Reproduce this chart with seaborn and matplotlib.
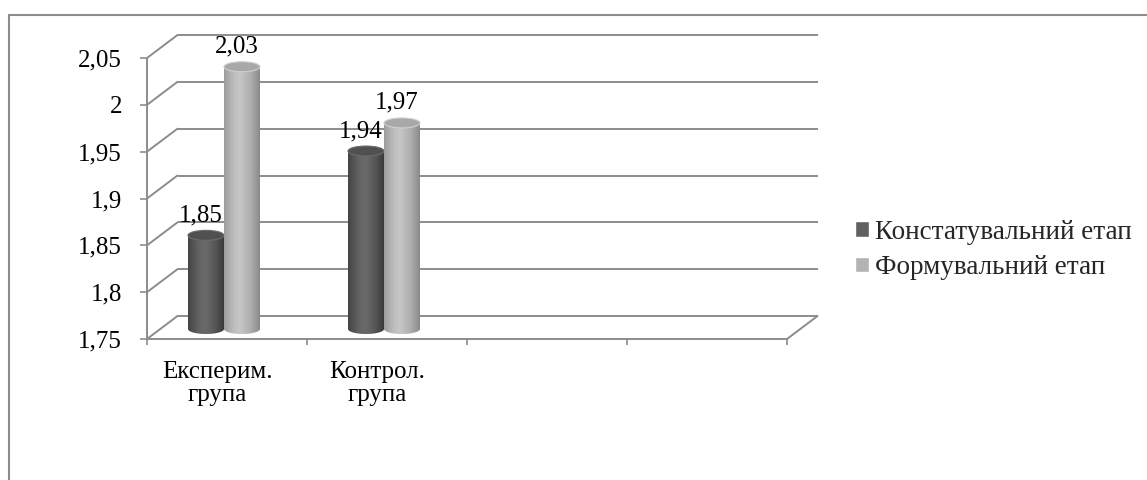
import numpy as np
import pandas as pd
import matplotlib
matplotlib.use('Agg')
import matplotlib.pyplot as plt
from matplotlib.colors import LinearSegmentedColormap
from matplotlib.patches import Ellipse, PathPatch, Patch
from matplotlib.path import Path
from matplotlib.lines import Line2D
from matplotlib.transforms import offset_copy
import seaborn as sns

# data
groups = ['Експерим.\nгрупа', 'Контрол.\nгрупа']
stages = ['Констатувальний етап', 'Формувальний етап']
stage1 = [1.85, 1.94]
stage2 = [2.03, 1.97]
value_labels1 = ['1,85', '1,94']
value_labels2 = ['2,03', '1,97']
yticks = [1.75, 1.80, 1.85, 1.90, 1.95, 2.00, 2.05]
ytick_labels = ['1,75', '1,8', '1,85', '1,9', '1,95', '2', '2,05']
n_slots = 4

df = pd.DataFrame({
    'group': groups * 2,
    'stage': [stages[0]] * 2 + [stages[1]] * 2,
    'value': stage1 + stage2,
})

sns.set_theme(style='white')
plt.rcParams['font.family'] = ['Liberation Serif', 'DejaVu Serif']
FS = 18
LFS = 19.5
gc = '#8c8c8c'
glw = 1.4

fig = plt.figure(figsize=(11.47, 4.8), dpi=100)
ax = fig.add_axes([147 / 1147, (480 - 339) / 480, 640 / 1147, 281 / 480])

sns.barplot(data=df, x='group', y='value', hue='stage', order=groups,
            hue_order=stages, palette=['#5e5e5e', '#b4b4b4'],
            width=0.45, errorbar=None, ax=ax)

ymin, ymax = yticks[0], yticks[-1]
ax.set_xlim(-0.5, n_slots - 0.5)
ax.set_ylim(ymin, ymax)

# px -> data units
ppx = 640 / n_slots
ppy = 281 / (ymax - ymin)
bdx, bdy = 30.5 / ppx, 23 / ppy      # back wall depth
sdx, sdy = -3 / ppx, 10 / ppy        # bars sit mid depth
eh = 10 / ppy                        # ellipse height

# back wall + left wall
ax.hlines([y + bdy for y in yticks], -0.5 + bdx, n_slots - 0.5 + bdx,
          color=gc, lw=glw, clip_on=False, zorder=1)
for y in yticks:
    ax.plot([-0.5, -0.5 + bdx], [y, y + bdy], color=gc, lw=glw,
            clip_on=False, zorder=1)
ax.plot([n_slots - 0.5, n_slots - 0.5 + bdx], [ymin, ymin + bdy],
        color=gc, lw=glw, clip_on=False, zorder=1)

cmaps = [
    LinearSegmentedColormap.from_list('d', [(0, '#444444'), (0.3, '#636363'),
                                            (0.5, '#6a6a6a'), (0.75, '#575757'),
                                            (1, '#3a3a3a')]),
    LinearSegmentedColormap.from_list('l', [(0, '#9c9c9c'), (0.3, '#c0c0c0'),
                                            (0.45, '#c6c6c6'), (0.75, '#adadad'),
                                            (1, '#8a8a8a')]),
]
tops = [('#505050', '#6c6c6c'), ('#a8a8a8', '#d0d0d0')]
grad = np.linspace(0, 1, 256)[None, :]
texts = [value_labels1, value_labels2]

for k, cont in enumerate(ax.containers):
    for j, p in enumerate(cont):
        p.set_visible(False)
        x0 = p.get_x() + sdx
        w = p.get_width()
        val = p.get_height()
        yb = ymin + sdy
        yt = val + sdy
        cx = x0 + w / 2
        t = np.linspace(np.pi, 2 * np.pi, 40)
        verts = [(x0, yt)] + list(zip(cx + w / 2 * np.cos(t), yb + eh / 2 * np.sin(t))) \
            + [(x0 + w, yt), (x0, yt)]
        codes = [Path.MOVETO] + [Path.LINETO] * (len(verts) - 2) + [Path.CLOSEPOLY]
        pp = PathPatch(Path(verts, codes), facecolor='none', edgecolor='none')
        ax.add_patch(pp)
        im = ax.imshow(grad, cmap=cmaps[k], extent=(x0, x0 + w, yb - eh / 2, yt),
                       aspect='auto', origin='lower', zorder=3 + k)
        im.set_clip_path(pp)
        ax.add_patch(Ellipse((cx, yt), w, eh, facecolor=tops[k][0],
                             edgecolor=tops[k][1], lw=0.8, zorder=3 + k,
                             clip_on=False))
        ax.annotate(texts[k][j], (cx, yt), xytext=(-5, 20),
                    textcoords='offset pixels', ha='center', va='center',
                    fontsize=FS, color='black', annotation_clip=False, zorder=6)

ax.set_xlim(-0.5, n_slots - 0.5)
ax.set_ylim(ymin, ymax)

for s in ['top', 'right']:
    ax.spines[s].set_visible(False)
for s in ['left', 'bottom']:
    ax.spines[s].set_color(gc)
    ax.spines[s].set_linewidth(glw)

ax.set_yticks(yticks, ytick_labels)
ax.tick_params(axis='y', left=True, length=5, width=1.2, color=gc, pad=13,
               labelsize=FS, labelcolor='black')
ax.set_xticks(np.arange(-0.5, n_slots, 1.0))
ax.set_xticklabels([])
ax.tick_params(axis='x', bottom=True, length=4.3, width=1.2, color=gc)
ax.set_xlabel('')
ax.set_ylabel('')

lab_tr = offset_copy(ax.transData, fig=fig, x=-10, y=-22, units='dots')
for i, g in enumerate(groups):
    ax.text(i, ymin, g, transform=lab_tr, ha='center', va='top',
            fontsize=FS, linespacing=1.05, color='black')

ax.get_legend().remove()
handles = [Patch(facecolor='#606060'), Patch(facecolor='#b3b3b3')]
fig.legend(handles, stages, loc='center left',
           bbox_to_anchor=(855 / 1147, 1 - 250 / 480), frameon=False,
           handlelength=0.5, handleheight=0.5, handletextpad=0.25,
           labelspacing=0.39, borderpad=0, borderaxespad=0, fontsize=LFS)

# chart border
fig.add_artist(Line2D([9 / 1147, 1], [1 - 15 / 480] * 2, color=gc, lw=1.5))
fig.add_artist(Line2D([9 / 1147] * 2, [0, 1 - 15 / 480], color=gc, lw=1.5))

fig.savefig('out.png', dpi=100)
